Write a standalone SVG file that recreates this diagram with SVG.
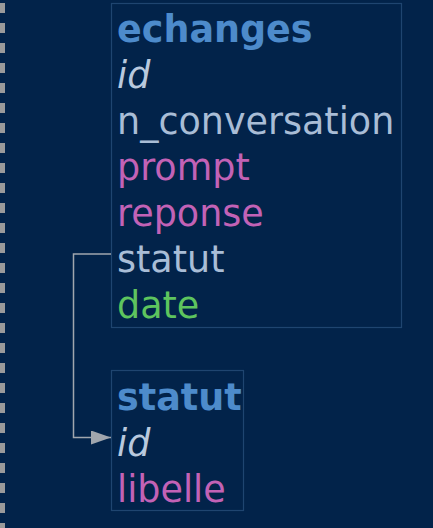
<svg xmlns="http://www.w3.org/2000/svg" width="433" height="528" viewBox="0 0 433 528">
<style>
.bg{fill:#02234a}
.box{fill:#02234a;stroke:#1f4570;stroke-width:1.2}
text{font-family:"DejaVu Sans",Verdana,sans-serif;font-size:36.5px}
.title{font-weight:bold;fill:#4d8bcb}
.pk{font-style:italic;fill:#b9c9de}
.plain{fill:#a9bdd6}
.str{fill:#c262b6}
.dt{fill:#5ec45e}
.conn{fill:none;stroke:#a0a6ae;stroke-width:1.5}
</style>
<defs>
<marker id="arrow" viewBox="0 0 20 14" refX="20" refY="7" markerWidth="20" markerHeight="14" markerUnits="userSpaceOnUse" orient="auto">
<path d="M0,0 L20,7 L0,14 z" fill="#a0a6ae"/>
</marker>
</defs>
<rect class="bg" x="0" y="0" width="433" height="528"/>
<line x1="2.5" y1="3" x2="2.5" y2="528" stroke="#9a9a9a" stroke-width="5" stroke-dasharray="10 10"/>
<g id="echanges">
<rect class="box" x="111.5" y="3.5" width="290" height="324"/>
<text class="title" x="117" y="42">echanges</text>
<text class="pk" x="117" y="88">id</text>
<text class="plain" x="117" y="134">n_conversation</text>
<text class="str" x="117" y="180">prompt</text>
<text class="str" x="117" y="226">reponse</text>
<text class="plain" x="117" y="272">statut</text>
<text class="dt" x="117" y="318">date</text>
</g>
<g id="statut">
<rect class="box" x="111.5" y="370.5" width="132" height="140"/>
<text class="title" x="117" y="410">statut</text>
<text class="pk" x="117" y="456">id</text>
<text class="str" x="117" y="502">libelle</text>
</g>
<g id="connectors">
<path class="conn" d="M111,254 H73.5 V437.5 H111" marker-end="url(#arrow)"/>
</g>
</svg>
